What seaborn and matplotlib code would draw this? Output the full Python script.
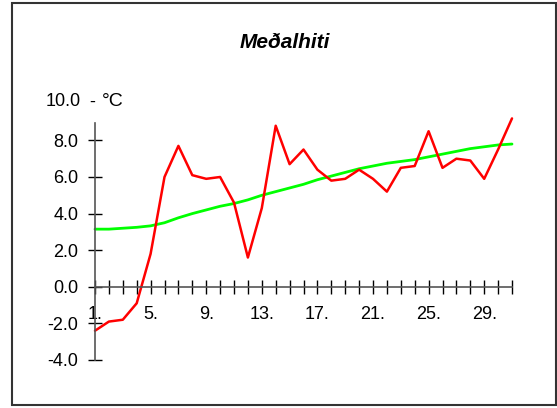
import pandas as pd
import matplotlib
matplotlib.use("Agg")
import matplotlib.pyplot as plt
import matplotlib.patches as mpatches
import seaborn as sns

# Daily temperature, this month vs. long-term mean
days = list(range(1, 32))
temp = [-2.4, -1.9, -1.8, -0.9, 1.8, 6.0, 7.7, 6.1, 5.9, 6.0,
        4.6, 1.6, 4.3, 8.8, 6.7, 7.5, 6.4, 5.8, 5.9, 6.4,
        5.9, 5.2, 6.5, 6.6, 8.5, 6.5, 7.0, 6.9, 5.9, 7.5, 9.2]
mean_temp = [3.15, 3.15, 3.2, 3.25, 3.33, 3.5, 3.77, 4.0, 4.2, 4.4,
             4.55, 4.75, 5.0, 5.2, 5.4, 5.6, 5.85, 6.05, 6.25, 6.45,
             6.6, 6.75, 6.85, 6.95, 7.1, 7.25, 7.4, 7.55, 7.65, 7.75, 7.8]
ytick_vals = [-4, -2, 0, 2, 4, 6, 8]
xtick_labels = [f"{d}." if (d - 1) % 4 == 0 else "" for d in days]

df = pd.DataFrame({"dagur": days, "hiti": temp, "medal": mean_temp})

sns.set_style("white")
plt.rcParams["font.family"] = ["Liberation Sans", "DejaVu Sans"]
plt.rcParams["text.color"] = "black"

W, H = 557, 408
fig = plt.figure(figsize=(W / 100, H / 100), dpi=100)
ax = fig.add_axes([95 / W, (H - 360) / H, (512 - 95) / W, (360 - 123) / H])

sns.lineplot(data=df, x="dagur", y="medal", ax=ax, color="#00ff00", linewidth=2.0, clip_on=False)
sns.lineplot(data=df, x="dagur", y="hiti", ax=ax, color="#ff0000", linewidth=1.8, clip_on=False)

ax.set_xlim(1, 31)
ax.set_ylim(-4, 8.95)
ax.set_xlabel("")
ax.set_ylabel("")

for s in ["top", "right"]:
    ax.spines[s].set_visible(False)
ax.spines["bottom"].set_position(("data", 0))
ax.spines["left"].set_position(("data", 1))
for s in ["bottom", "left"]:
    ax.spines[s].set_color("#555555")
    ax.spines[s].set_linewidth(1.2)

ax.set_xticks(days)
ax.set_xticklabels(xtick_labels)
ax.set_yticks(ytick_vals)
ax.set_yticklabels([f"{v:.1f}" for v in ytick_vals])
ax.tick_params(axis="both", which="major", bottom=True, left=True,
               direction="inout", length=10, width=1, color="black",
               labelsize=13, labelcolor="black")
ax.tick_params(axis="x", pad=9)
ax.tick_params(axis="y", pad=7)

fig.text(81 / W, 1 - 102 / H, "10.0", ha="right", va="center", fontsize=13)
fig.text(89 / W, 1 - 102 / H, "-", ha="left", va="center", fontsize=13)
fig.text(102 / W, 1 - 102 / H, "°C", ha="left", va="center", fontsize=14)
fig.text(285 / W, 1 - 42 / H, "Meðalhiti", ha="center", va="center",
         fontsize=15, fontweight="bold", fontstyle="italic", color="black")

border = mpatches.Rectangle((12 / W, 3 / H), (556 - 12) / W, (406 - 4) / H,
                            transform=fig.transFigure, fill=False,
                            edgecolor="#333333", linewidth=1.5)
fig.patches.append(border)

fig.savefig("out.png", dpi=100)
